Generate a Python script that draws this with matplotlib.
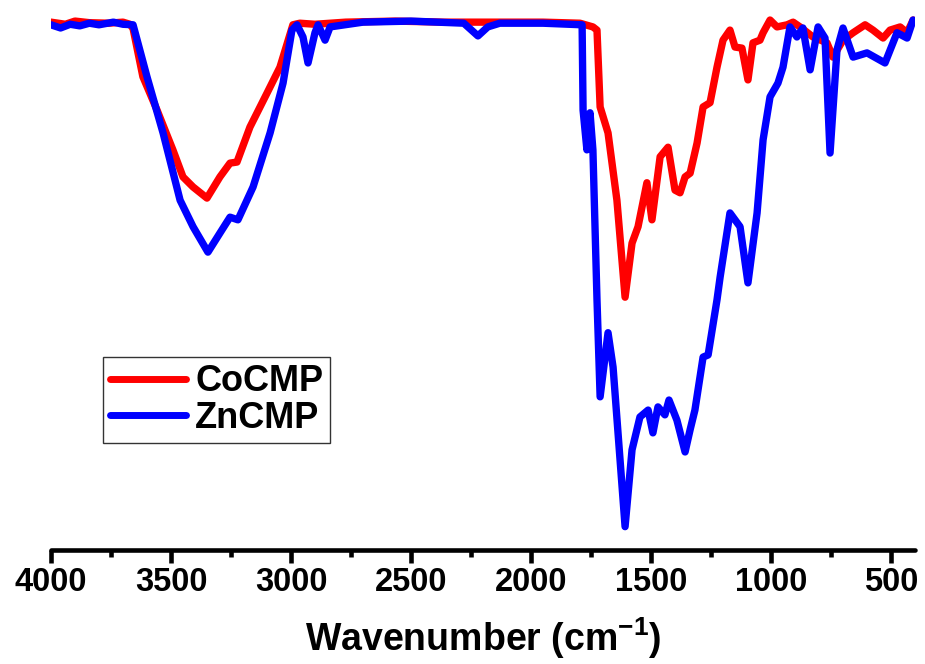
import matplotlib.pyplot as plt
from matplotlib.ticker import MultipleLocator

# ---------------------------------------------------------------------------
# FTIR data (wavenumber in cm-1, transmittance in a.u.)
# ---------------------------------------------------------------------------

co_wn = [4000, 3940, 3900, 3840, 3760, 3700, 3671, 3658, 3617, 3558, 3492,
         3450, 3408, 3350, 3296, 3254, 3225, 3171, 3100, 3046, 2992, 2963,
         2900, 2772, 2566, 2361, 2156, 1950, 1796, 1742, 1725, 1712, 1679,
         1642, 1608, 1579, 1554, 1517, 1496, 1462, 1429, 1400, 1379, 1358,
         1337, 1308, 1283, 1254, 1225, 1200, 1171, 1150, 1121, 1096, 1075,
         1046, 1033, 1004, 975, 933, 908, 879, 825, 767, 742, 700, 658,
         608, 575, 533, 504, 462, 433, 408]
co_t = [99.4, 99.0, 99.6, 99.3, 99.2, 99.4, 99.0, 98.2, 89.1, 82.8, 75.3,
        70.2, 68.3, 66.2, 70.2, 72.8, 73.0, 79.6, 86.0, 90.9, 98.9, 99.2,
        99.0, 99.4, 99.6, 99.4, 99.4, 99.4, 99.2, 98.5, 97.9, 83.4, 78.5,
        65.8, 47.5, 57.7, 60.8, 69.1, 62.1, 74.0, 75.8, 67.7, 67.2, 70.2,
        70.9, 76.6, 83.4, 84.2, 90.9, 96.0, 97.9, 94.7, 94.5, 88.5, 95.5,
        96.0, 97.4, 99.8, 98.5, 98.9, 99.4, 98.5, 96.6, 95.5, 92.8, 96.0,
        97.4, 98.9, 97.9, 96.4, 97.9, 98.5, 97.4, 99.8]

zn_wn = [4000, 3960, 3920, 3880, 3840, 3800, 3740, 3700, 3658, 3600, 3533,
         3462, 3408, 3346, 3296, 3254, 3221, 3158, 3087, 3033, 2996, 2975,
         2950, 2929, 2900, 2887, 2858, 2837, 2700, 2500, 2280, 2221, 2180,
         2130, 1950, 1787, 1783, 1767, 1754, 1742, 1725, 1712, 1679, 1658,
         1608, 1579, 1546, 1512, 1492, 1471, 1442, 1425, 1392, 1358, 1337,
         1317, 1283, 1262, 1225, 1212, 1171, 1129, 1096, 1058, 1033, 1004,
         971, 950, 921, 892, 867, 837, 804, 775, 754, 725, 700, 658, 600,
         525, 475, 433, 408]
zn_t = [98.9, 98.3, 99.0, 98.7, 99.2, 98.9, 99.4, 99.0, 98.9, 89.1, 78.5,
        65.8, 60.8, 56.0, 59.6, 62.6, 62.1, 68.3, 78.5, 87.9, 97.9, 98.9,
        96.6, 91.7, 97.4, 98.9, 96.0, 98.5, 99.4, 99.6, 99.2, 96.8, 98.5,
        99.2, 99.2, 98.9, 82.8, 75.3, 82.3, 75.3, 47.0, 28.7, 40.8, 34.3,
        4.2, 18.7, 24.9, 26.2, 21.9, 26.8, 25.3, 28.1, 24.3, 18.3, 22.5,
        26.2, 36.2, 36.6, 47.0, 51.3, 63.4, 60.8, 50.2, 63.4, 77.2, 85.3,
        87.9, 90.9, 98.5, 96.6, 98.3, 90.4, 98.5, 96.4, 74.7, 94.2, 98.3,
        92.8, 93.6, 91.7, 97.4, 96.4, 99.8]

labels = ["CoCMP", "ZnCMP"]
colors = ["#ff0000", "#0000ff"]

FONT = ["Liberation Sans", "DejaVu Sans"]
plt.rcParams["mathtext.fontset"] = "custom"
plt.rcParams["mathtext.rm"] = "Liberation Sans"
plt.rcParams["mathtext.bf"] = "Liberation Sans:bold"

fig = plt.figure(figsize=(9.25, 6.64), dpi=100)
ax = fig.add_axes([0.0551, 0.1717, 0.9341, 0.8133])

for wn, t, c, lab in [(co_wn, co_t, colors[0], labels[0]),
                      (zn_wn, zn_t, colors[1], labels[1])]:
    ax.plot(wn, t, color=c, lw=5.3, label=lab,
            solid_joinstyle="round", solid_capstyle="round")

ax.set_xlim(4000, 400)
ax.set_ylim(-0.2, 101.7)

for side in ("left", "right", "top"):
    ax.spines[side].set_visible(False)
ax.spines["bottom"].set_linewidth(3.3)
ax.spines["bottom"].set_capstyle("round")

ax.xaxis.set_major_locator(MultipleLocator(500))
ax.xaxis.set_minor_locator(MultipleLocator(250))
ax.tick_params(axis="x", which="major", direction="out", length=9,
               width=3.3, pad=3)
ax.tick_params(axis="x", which="minor", direction="out", length=5,
               width=3.3)
ax.set_yticks([])
for lab in ax.get_xticklabels():
    lab.set_family(FONT)
    lab.set_fontweight("bold")
    lab.set_fontsize(23.5)

ax.set_xlabel("Wavenumber (cm$^{\\mathbf{-1}}$)", family=FONT,
              fontweight="bold", fontsize=27, labelpad=13)

leg = ax.legend(loc="upper left", bbox_to_anchor=(0.1114, 0.4623),
                bbox_transform=fig.transFigure, borderaxespad=0,
                frameon=True, fancybox=False, edgecolor="black",
                handlelength=2.1, handletextpad=0.25, labelspacing=0.04,
                borderpad=0.2,
                prop={"family": FONT, "weight": "bold", "size": 26})
leg.get_frame().set_linewidth(1.0)
for line in leg.get_lines():
    line.set_linewidth(5)

fig.savefig("out.png", dpi=100)
